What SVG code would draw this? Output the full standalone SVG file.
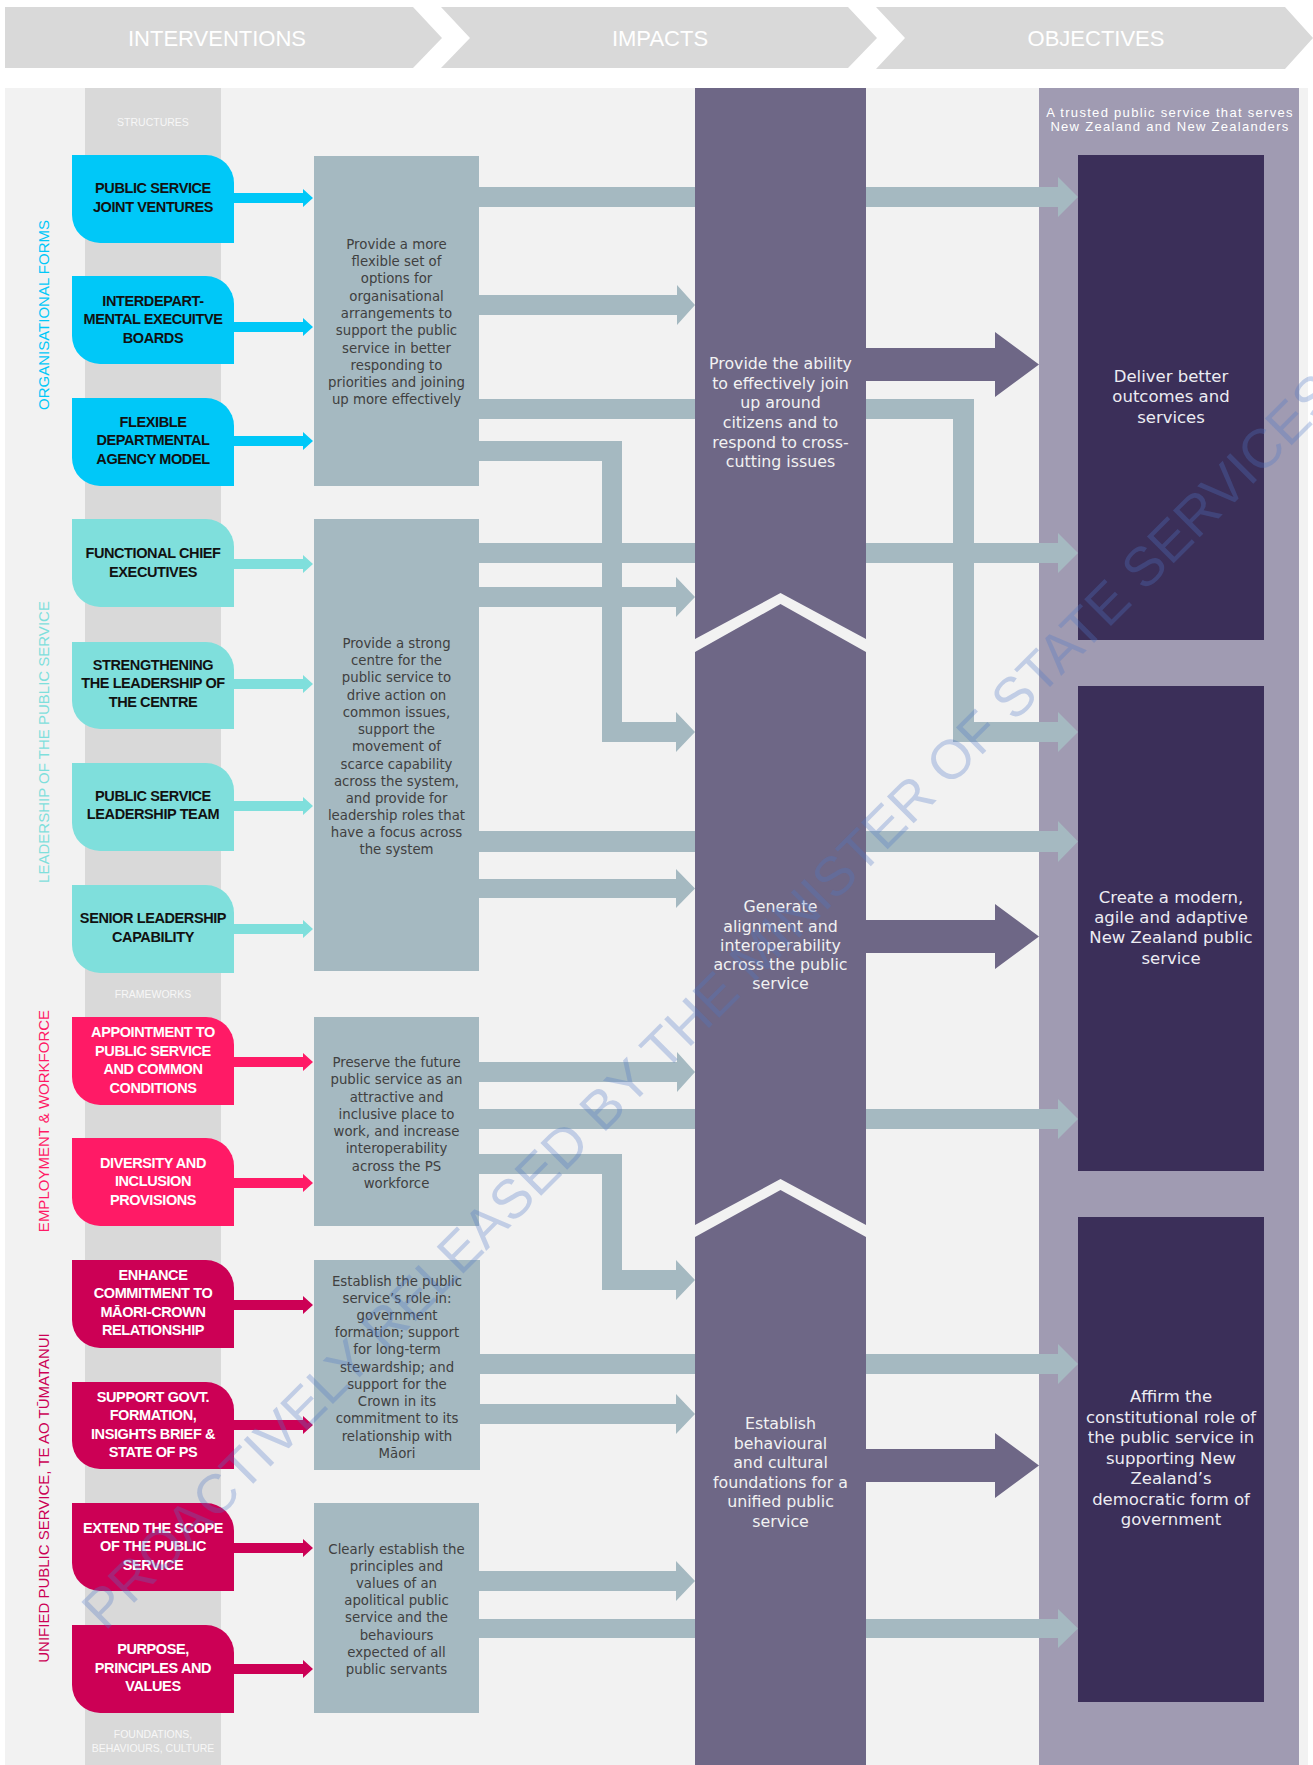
<svg xmlns="http://www.w3.org/2000/svg" width="1313" height="1765" viewBox="0 0 1313 1765">
<style>
.hdr{fill:#d9d9d9}
.hdrt{font-family:"Liberation Sans",Arial,sans-serif;font-size:22px;fill:#ffffff;text-anchor:middle}
.sec{font-family:"Liberation Sans",Arial,sans-serif;font-size:10.5px;fill:#f7f7f7;text-anchor:middle}
.vlab{font-family:"Liberation Sans",Arial,sans-serif;font-size:15px;text-anchor:middle}
.iv{font-family:"Liberation Sans",Arial,sans-serif;font-size:14.5px;font-weight:bold;letter-spacing:-0.4px;text-anchor:middle}
.dk{fill:#111111}
.wt{fill:#ffffff}
.gb{fill:#a5b9c1}
.gt{font-family:"DejaVu Sans",Verdana,sans-serif;font-size:13.3px;fill:#404040;text-anchor:middle}
.imp{fill:#6e6786}
.it{font-family:"DejaVu Sans",Verdana,sans-serif;font-size:15.8px;fill:#f2f2f2;text-anchor:middle}
.obo{fill:#a09bb2}
.obd{fill:#3b2f59}
.ot{font-family:"DejaVu Sans",Verdana,sans-serif;font-size:16.5px;fill:#ececf2;text-anchor:middle}
.sub{font-family:"Liberation Sans",Arial,sans-serif;font-size:13px;letter-spacing:1.3px;fill:#ffffff;text-anchor:middle}
.cy{fill:#00c8f8}
.tl{fill:#7fdfdc}
.pk{fill:#ff1a66}
.cr{fill:#cc0055}
.con{fill:#a5b9c1}
.pa{fill:#6e6786}
</style>
<rect x="0" y="0" width="1313" height="1765" fill="#ffffff"/>
<g id="header">
<polygon class="hdr" points="5,7 413,7 442,38 413,68 5,68"/>
<polygon class="hdr" points="441,7 848,7 877,38 848,68 441,68 470,38"/>
<polygon class="hdr" points="876,7 1285,7 1313,38 1285,69 876,69 905,38"/>
<text class="hdrt" x="217" y="46">INTERVENTIONS</text>
<text class="hdrt" x="660" y="46">IMPACTS</text>
<text class="hdrt" x="1096" y="46">OBJECTIVES</text>
</g>
<g id="background">
<rect x="5" y="88" width="1303" height="1677" fill="#f2f2f2"/>
<rect x="85" y="88" width="136" height="1677" fill="#d9d9d9"/>
<text class="sec" x="153" y="126">STRUCTURES</text>
<text class="sec" x="153" y="998">FRAMEWORKS</text>
<text class="sec" x="153" y="1738">FOUNDATIONS,</text>
<text class="sec" x="153" y="1752">BEHAVIOURS, CULTURE</text>
<text class="vlab" fill="#00c8f8" transform="translate(48.5,315) rotate(-90)">ORGANISATIONAL FORMS</text>
<text class="vlab" fill="#7fdfdc" transform="translate(48.5,742) rotate(-90)">LEADERSHIP OF THE PUBLIC SERVICE</text>
<text class="vlab" fill="#ff1a66" transform="translate(48.5,1121) rotate(-90)">EMPLOYMENT &amp; WORKFORCE</text>
<text class="vlab" fill="#cc0055" transform="translate(48.5,1498) rotate(-90)">UNIFIED PUBLIC SERVICE, TE AO TŪMATANUI</text>
</g>
<g id="objectives-column">
<rect class="obo" x="1039" y="88" width="260" height="1677"/>
<text class="sub" x="1170" y="117">A trusted public service that serves</text>
<text class="sub" x="1170" y="131">New Zealand and New Zealanders</text>
</g>
<g id="intervention-arrows">
<path class="cy" d="M234,193 H303 V189 L313,198 L303,207 V203 H234 Z"/>
<path class="cy" d="M234,322 H303 V318 L313,327 L303,336 V332 H234 Z"/>
<path class="cy" d="M234,436 H303 V432 L313,441 L303,450 V446 H234 Z"/>
<path class="tl" d="M234,559 H303 V555 L313,564 L303,573 V569 H234 Z"/>
<path class="tl" d="M234,679 H303 V675 L313,684 L303,693 V689 H234 Z"/>
<path class="tl" d="M234,801 H303 V797 L313,806 L303,815 V811 H234 Z"/>
<path class="tl" d="M234,924 H303 V920 L313,929 L303,938 V934 H234 Z"/>
<path class="pk" d="M234,1057 H303 V1053 L313,1062 L303,1071 V1067 H234 Z"/>
<path class="pk" d="M234,1178 H303 V1174 L313,1183 L303,1192 V1188 H234 Z"/>
<path class="cr" d="M234,1300 H303 V1296 L313,1305 L303,1314 V1310 H234 Z"/>
<path class="cr" d="M234,1420 H303 V1416 L313,1425 L303,1434 V1430 H234 Z"/>
<path class="cr" d="M234,1543 H303 V1539 L313,1548 L303,1557 V1553 H234 Z"/>
<path class="cr" d="M234,1664 H303 V1660 L313,1669 L303,1678 V1674 H234 Z"/>
</g>
<g id="connectors">
<path class="con" d="M479,187 H1058 V177 L1078,197 L1058,217 V207 H479 Z"/>
<path class="con" d="M479,295 H677 V285 L695,305 L677,325 V315 H479 Z"/>
<path class="con" d="M479,399 H974 V722 H1058 V712 L1078,732 L1058,752 V742 H953 V419 H479 Z"/>
<path class="con" d="M479,441 H622 V722 H676 V712 L695,732 L676,752 V742 H602 V461 H479 Z"/>
<path class="con" d="M478,543 H1058 V533 L1078,553 L1058,573 V563 H478 Z"/>
<path class="con" d="M478,587 H676 V577 L695,597 L676,617 V607 H478 Z"/>
<path class="con" d="M478,831 H1058 V821 L1078,841.5 L1058,862 V852 H478 Z"/>
<path class="con" d="M478,879 H676 V869 L695,888.5 L676,908 V898 H478 Z"/>
<path class="con" d="M479,1062 H677 V1052 L695,1072 L677,1092 V1082 H479 Z"/>
<path class="con" d="M479,1109 H1058 V1099 L1078,1119 L1058,1139 V1129 H479 Z"/>
<path class="con" d="M479,1154 H622 V1270 H676 V1260 L695,1280 L676,1300 V1290 H602 V1174 H479 Z"/>
<path class="con" d="M480,1354 H1058 V1344 L1078,1364 L1058,1384 V1374 H480 Z"/>
<path class="con" d="M480,1404 H676 V1394 L695,1414 L676,1434 V1424 H480 Z"/>
<path class="con" d="M479,1571 H676 V1561 L695,1581 L676,1601 V1591 H479 Z"/>
<path class="con" d="M479,1619 H1058 V1609 L1078,1628.5 L1058,1648 V1638 H479 Z"/>
</g>
<g id="impact-1">
<polygon class="imp" points="695,88 866,88 866,639 780.5,593 695,639"/>
<text class="it" x="780.5" y="368.5">Provide the ability</text>
<text class="it" x="780.5" y="388.5">to effectively join</text>
<text class="it" x="780.5" y="407.5">up around</text>
<text class="it" x="780.5" y="427.5">citizens and to</text>
<text class="it" x="780.5" y="447.5">respond to cross-</text>
<text class="it" x="780.5" y="466.5">cutting issues</text>
</g>
<g id="impact-2">
<polygon class="imp" points="695,652 780.5,604 866,652 866,1225 780.5,1179 695,1225"/>
<text class="it" x="780.5" y="911.5">Generate</text>
<text class="it" x="780.5" y="931.5">alignment and</text>
<text class="it" x="780.5" y="950.5">interoperability</text>
<text class="it" x="780.5" y="969.5">across the public</text>
<text class="it" x="780.5" y="988.5">service</text>
</g>
<g id="impact-3">
<polygon class="imp" points="695,1237 780.5,1190 866,1237 866,1765 695,1765"/>
<text class="it" x="780.5" y="1428.5">Establish</text>
<text class="it" x="780.5" y="1448.5">behavioural</text>
<text class="it" x="780.5" y="1467.5">and cultural</text>
<text class="it" x="780.5" y="1487.5">foundations for a</text>
<text class="it" x="780.5" y="1506.5">unified public</text>
<text class="it" x="780.5" y="1526.5">service</text>
</g>
<g id="impact-arrows">
<path class="pa" d="M866,348 H995 V332 L1039,364.5 L995,397 V381 H866 Z"/>
<path class="pa" d="M866,920 H995 V904 L1039,936.5 L995,969 V953 H866 Z"/>
<path class="pa" d="M866,1449 H995 V1433 L1039,1465.5 L995,1498 V1482 H866 Z"/>
</g>
<g id="objective-1">
<rect class="obd" x="1078" y="155" width="186" height="485"/>
<text class="ot" x="1171" y="382">Deliver better</text>
<text class="ot" x="1171" y="402">outcomes and</text>
<text class="ot" x="1171" y="423">services</text>
</g>
<g id="objective-2">
<rect class="obd" x="1078" y="686" width="186" height="485"/>
<text class="ot" x="1171" y="903">Create a modern,</text>
<text class="ot" x="1171" y="923">agile and adaptive</text>
<text class="ot" x="1171" y="943">New Zealand public</text>
<text class="ot" x="1171" y="964">service</text>
</g>
<g id="objective-3">
<rect class="obd" x="1078" y="1217" width="186" height="485"/>
<text class="ot" x="1171" y="1402">Affirm the</text>
<text class="ot" x="1171" y="1423">constitutional role of</text>
<text class="ot" x="1171" y="1443">the public service in</text>
<text class="ot" x="1171" y="1464">supporting New</text>
<text class="ot" x="1171" y="1484">Zealand’s</text>
<text class="ot" x="1171" y="1505">democratic form of</text>
<text class="ot" x="1171" y="1525">government</text>
</g>
<g id="box-organisational">
<rect class="gb" x="314" y="156" width="165" height="330"/>
<text class="gt" x="396.5" y="249">Provide a more</text>
<text class="gt" x="396.5" y="266">flexible set of</text>
<text class="gt" x="396.5" y="283">options for</text>
<text class="gt" x="396.5" y="301">organisational</text>
<text class="gt" x="396.5" y="318">arrangements to</text>
<text class="gt" x="396.5" y="335">support the public</text>
<text class="gt" x="396.5" y="353">service in better</text>
<text class="gt" x="396.5" y="370">responding to</text>
<text class="gt" x="396.5" y="387">priorities and joining</text>
<text class="gt" x="396.5" y="404">up more effectively</text>
</g>
<g id="box-leadership">
<rect class="gb" x="314" y="519" width="165" height="452"/>
<text class="gt" x="396.5" y="648">Provide a strong</text>
<text class="gt" x="396.5" y="665">centre for the</text>
<text class="gt" x="396.5" y="682">public service to</text>
<text class="gt" x="396.5" y="700">drive action on</text>
<text class="gt" x="396.5" y="717">common issues,</text>
<text class="gt" x="396.5" y="734">support the</text>
<text class="gt" x="396.5" y="751">movement of</text>
<text class="gt" x="396.5" y="769">scarce capability</text>
<text class="gt" x="396.5" y="786">across the system,</text>
<text class="gt" x="396.5" y="803">and provide for</text>
<text class="gt" x="396.5" y="820">leadership roles that</text>
<text class="gt" x="396.5" y="837">have a focus across</text>
<text class="gt" x="396.5" y="854">the system</text>
</g>
<g id="box-employment">
<rect class="gb" x="314" y="1017" width="165" height="209"/>
<text class="gt" x="396.5" y="1067">Preserve the future</text>
<text class="gt" x="396.5" y="1084">public service as an</text>
<text class="gt" x="396.5" y="1102">attractive and</text>
<text class="gt" x="396.5" y="1119">inclusive place to</text>
<text class="gt" x="396.5" y="1136">work, and increase</text>
<text class="gt" x="396.5" y="1153">interoperability</text>
<text class="gt" x="396.5" y="1171">across the PS</text>
<text class="gt" x="396.5" y="1188">workforce</text>
</g>
<g id="box-constitutional">
<rect class="gb" x="314" y="1260" width="166" height="210"/>
<text class="gt" x="397" y="1286">Establish the public</text>
<text class="gt" x="397" y="1303">service’s role in:</text>
<text class="gt" x="397" y="1320">government</text>
<text class="gt" x="397" y="1337">formation; support</text>
<text class="gt" x="397" y="1354">for long-term</text>
<text class="gt" x="397" y="1372">stewardship; and</text>
<text class="gt" x="397" y="1389">support for the</text>
<text class="gt" x="397" y="1406">Crown in its</text>
<text class="gt" x="397" y="1423">commitment to its</text>
<text class="gt" x="397" y="1441">relationship with</text>
<text class="gt" x="397" y="1458">Māori</text>
</g>
<g id="box-principles">
<rect class="gb" x="314" y="1503" width="165" height="210"/>
<text class="gt" x="396.5" y="1554">Clearly establish the</text>
<text class="gt" x="396.5" y="1571">principles and</text>
<text class="gt" x="396.5" y="1588">values of an</text>
<text class="gt" x="396.5" y="1605">apolitical public</text>
<text class="gt" x="396.5" y="1622">service and the</text>
<text class="gt" x="396.5" y="1640">behaviours</text>
<text class="gt" x="396.5" y="1657">expected of all</text>
<text class="gt" x="396.5" y="1674">public servants</text>
</g>
<g id="iv-joint-ventures">
<path class="cy" d="M72,155 H206 A28,28 0 0 1 234,183 V243 H100 A28,28 0 0 1 72,215 Z"/>
<text class="iv dk" x="153" y="193">PUBLIC SERVICE</text>
<text class="iv dk" x="153" y="212">JOINT VENTURES</text>
</g>
<g id="iv-boards">
<path class="cy" d="M72,276 H206 A28,28 0 0 1 234,304 V364 H100 A28,28 0 0 1 72,336 Z"/>
<text class="iv dk" x="153" y="306">INTERDEPART-</text>
<text class="iv dk" x="153" y="324">MENTAL EXECUITVE</text>
<text class="iv dk" x="153" y="343">BOARDS</text>
</g>
<g id="iv-flexible">
<path class="cy" d="M72,398 H206 A28,28 0 0 1 234,426 V486 H100 A28,28 0 0 1 72,458 Z"/>
<text class="iv dk" x="153" y="427">FLEXIBLE</text>
<text class="iv dk" x="153" y="445">DEPARTMENTAL</text>
<text class="iv dk" x="153" y="464">AGENCY MODEL</text>
</g>
<g id="iv-functional">
<path class="tl" d="M72,519 H206 A28,28 0 0 1 234,547 V607 H100 A28,28 0 0 1 72,579 Z"/>
<text class="iv dk" x="153" y="558">FUNCTIONAL CHIEF</text>
<text class="iv dk" x="153" y="577">EXECUTIVES</text>
</g>
<g id="iv-centre">
<path class="tl" d="M72,642 H206 A28,28 0 0 1 234,670 V729 H100 A28,28 0 0 1 72,701 Z"/>
<text class="iv dk" x="153" y="670">STRENGTHENING</text>
<text class="iv dk" x="153" y="688">THE LEADERSHIP OF</text>
<text class="iv dk" x="153" y="707">THE CENTRE</text>
</g>
<g id="iv-pslt">
<path class="tl" d="M72,763 H206 A28,28 0 0 1 234,791 V851 H100 A28,28 0 0 1 72,823 Z"/>
<text class="iv dk" x="153" y="801">PUBLIC SERVICE</text>
<text class="iv dk" x="153" y="819">LEADERSHIP TEAM</text>
</g>
<g id="iv-senior">
<path class="tl" d="M72,885 H206 A28,28 0 0 1 234,913 V973 H100 A28,28 0 0 1 72,945 Z"/>
<text class="iv dk" x="153" y="923">SENIOR LEADERSHIP</text>
<text class="iv dk" x="153" y="942">CAPABILITY</text>
</g>
<g id="iv-appointment">
<path class="pk" d="M72,1017 H206 A28,28 0 0 1 234,1045 V1105 H100 A28,28 0 0 1 72,1077 Z"/>
<text class="iv wt" x="153" y="1037">APPOINTMENT TO</text>
<text class="iv wt" x="153" y="1056">PUBLIC SERVICE</text>
<text class="iv wt" x="153" y="1074">AND COMMON</text>
<text class="iv wt" x="153" y="1093">CONDITIONS</text>
</g>
<g id="iv-diversity">
<path class="pk" d="M72,1138 H206 A28,28 0 0 1 234,1166 V1226 H100 A28,28 0 0 1 72,1198 Z"/>
<text class="iv wt" x="153" y="1168">DIVERSITY AND</text>
<text class="iv wt" x="153" y="1186">INCLUSION</text>
<text class="iv wt" x="153" y="1205">PROVISIONS</text>
</g>
<g id="iv-maori-crown">
<path class="cr" d="M72,1260 H206 A28,28 0 0 1 234,1288 V1348 H100 A28,28 0 0 1 72,1320 Z"/>
<text class="iv wt" x="153" y="1280">ENHANCE</text>
<text class="iv wt" x="153" y="1298">COMMITMENT TO</text>
<text class="iv wt" x="153" y="1317">MĀORI-CROWN</text>
<text class="iv wt" x="153" y="1335">RELATIONSHIP</text>
</g>
<g id="iv-govt-formation">
<path class="cr" d="M72,1382 H206 A28,28 0 0 1 234,1410 V1469 H100 A28,28 0 0 1 72,1441 Z"/>
<text class="iv wt" x="153" y="1402">SUPPORT GOVT.</text>
<text class="iv wt" x="153" y="1420">FORMATION,</text>
<text class="iv wt" x="153" y="1439">INSIGHTS BRIEF &amp;</text>
<text class="iv wt" x="153" y="1457">STATE OF PS</text>
</g>
<g id="iv-scope">
<path class="cr" d="M72,1503 H206 A28,28 0 0 1 234,1531 V1591 H100 A28,28 0 0 1 72,1563 Z"/>
<text class="iv wt" x="153" y="1533">EXTEND THE SCOPE</text>
<text class="iv wt" x="153" y="1551">OF THE PUBLIC</text>
<text class="iv wt" x="153" y="1570">SERVICE</text>
</g>
<g id="iv-purpose">
<path class="cr" d="M72,1625 H206 A28,28 0 0 1 234,1653 V1713 H100 A28,28 0 0 1 72,1685 Z"/>
<text class="iv wt" x="153" y="1654">PURPOSE,</text>
<text class="iv wt" x="153" y="1673">PRINCIPLES AND</text>
<text class="iv wt" x="153" y="1691">VALUES</text>
</g>
<g id="watermark">
<text x="105" y="1632" transform="rotate(-45 105 1632)" font-family="Liberation Sans, Arial, sans-serif" font-size="55" fill="#4f78c8" fill-opacity="0.3">PROACTIVELY RELEASED BY THE MINISTER OF STATE SERVICES</text>
</g>
</svg>
